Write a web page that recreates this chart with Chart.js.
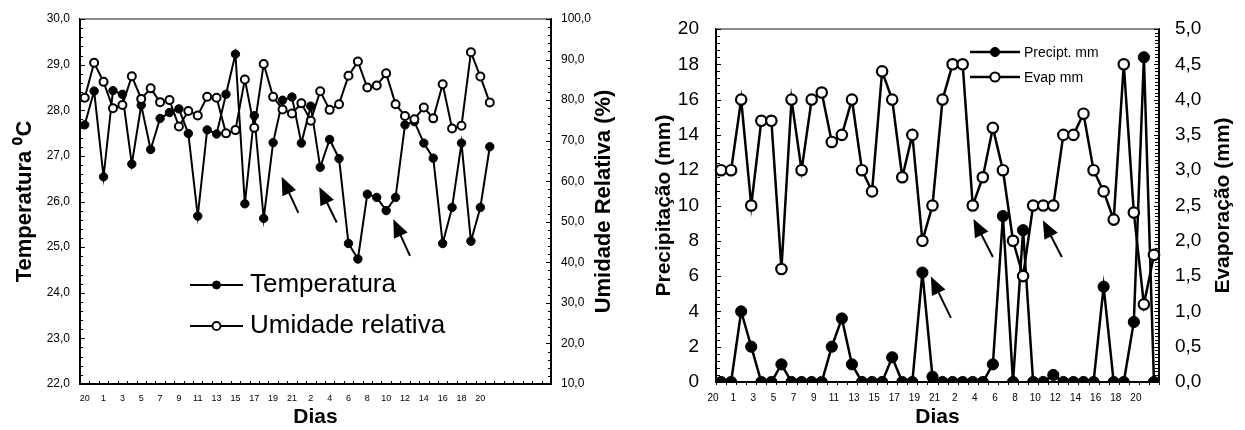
<!DOCTYPE html>
<html>
<head>
<meta charset="utf-8">
<script src="https://cdn.jsdelivr.net/npm/chart.js@4.4.7/dist/chart.umd.min.js"></script>
<style>
  html, body { margin: 0; padding: 0; background: #fff; }
  #wrap { position: relative; width: 1245px; height: 430px; }
  .box { position: absolute; top: 0; height: 430px; }
  #left { left: 0; width: 635px; }
  #right { left: 635px; width: 610px; }
</style>
</head>
<body>
<div id="wrap">
  <div class="box" id="left"><canvas id="c1"></canvas></div>
  <div class="box" id="right"><canvas id="c2"></canvas></div>
</div>
<script>
// dias (categorias)
const dias = ['20', '21', '1', '2', '3', '4', '5', '6', '7', '8', '9', '10', '11', '12', '13', '14', '15', '16', '17', '18', '19', '20', '21',
  '1', '2', '3', '4', '5', '6', '7', '8', '9', '10', '11', '12', '13', '14', '15', '16', '17', '18', '19', '20', '21'];
// o eixo do primeiro gráfico continua alguns dias sem dados
const vazios = ['', '', '', '', '', ''];

const temperatura = [27.68, 28.42, 26.54, 28.43, 28.35, 26.82, 28.11, 27.14, 27.82, 27.95, 28.03, 27.49, 25.68, 27.57, 27.48,
  28.35, 29.23, 25.95, 27.88, 25.63, 27.29, 28.22, 28.29, 27.28, 28.09, 26.75, 27.36, 26.94, 25.08, 24.74, 26.16, 26.09,
  25.80, 26.09, 27.68, 27.75, 27.28, 26.95, 25.08, 25.87, 27.28, 25.13, 25.87, 27.20];
const umidade = [80.6, 89.2, 84.5, 78.0, 78.8, 85.9, 80.3, 82.9, 79.5, 80.0, 73.5, 77.3, 76.2, 80.8, 80.6, 71.8, 72.6, 85.1,
  73.2, 88.9, 80.8, 77.7, 76.7, 79.2, 74.9, 82.2, 77.6, 79.0, 86.0, 89.5, 83.1, 83.6, 86.6, 79.0, 76.1, 75.3, 78.2, 75.5,
  83.9, 73.0, 73.7, 91.8, 85.8, 79.4];

const precipitacao = [0, 0, 4.0, 2.0, 0, 0, 1.0, 0, 0, 0, 0, 2.0, 3.6, 1.0, 0, 0, 0, 1.4, 0, 0, 6.2, 0.3, 0, 0, 0, 0, 0, 1.0,
  9.4, 0, 8.6, 0, 0, 0.4, 0, 0, 0, 0, 5.4, 0, 0, 3.4, 18.4, 0];
const evaporacao = [3.0, 3.0, 4.0, 2.5, 3.7, 3.7, 1.6, 4.0, 3.0, 4.0, 4.1, 3.4, 3.5, 4.0, 3.0, 2.7, 4.4, 4.0, 2.9, 3.5, 2.0,
  2.5, 4.0, 4.5, 4.5, 2.5, 2.9, 3.6, 3.0, 2.0, 1.5, 2.5, 2.5, 2.5, 3.5, 3.5, 3.8, 3.0, 2.7, 2.3, 4.5, 2.4, 1.1, 1.8];

Chart.defaults.font.family = '"Liberation Sans", Arial, sans-serif';
Chart.defaults.color = '#000';

const virgula = v => v.toFixed(1).replace('.', ',');

// moldura cinza no topo e marcas de escala para dentro
const moldura = {
  id: 'moldura',
  beforeDatasetsDraw(chart, args, o) {
    const { ctx, chartArea: a, scales } = chart;
    ctx.save();
    ctx.strokeStyle = '#8a8a8a';
    ctx.lineWidth = 2;
    ctx.beginPath(); ctx.moveTo(a.left, a.top); ctx.lineTo(a.right, a.top); ctx.stroke();
    ctx.strokeStyle = '#000';
    ctx.lineWidth = 1;
    for (const id of ['y', 'y1']) {
      const s = scales[id], t = o[id];
      const n = Math.round((s.max - s.min) / t.minor);
      const x0 = s.position === 'left' ? a.left : a.right;
      const dir = s.position === 'left' ? 1 : -1;
      for (let i = 0; i <= n; i++) {
        const y = Math.round(s.getPixelForValue(s.min + i * t.minor)) + 0.5;
        const len = i % t.every === 0 ? t.major : t.len;
        ctx.beginPath(); ctx.moveTo(x0, y); ctx.lineTo(x0 + dir * len, y); ctx.stroke();
      }
    }
    const sx = scales.x, n = sx.getLabels().length;
    for (let i = 0; i <= n; i++) {
      const x = Math.round(sx.getPixelForValue(i - 0.5)) + 0.5;
      ctx.beginPath(); ctx.moveTo(x, a.bottom); ctx.lineTo(x, a.bottom + o.x.dir * o.x.len); ctx.stroke();
    }
    ctx.restore();
  }
};

const setas = {
  id: 'setas',
  afterDatasetsDraw(chart, args, o) {
    const { ctx, scales } = chart;
    ctx.save();
    ctx.fillStyle = '#000';
    ctx.strokeStyle = '#000';
    ctx.lineWidth = 2;
    o.lista.forEach(s => {
      const x1 = scales.x.getPixelForValue(s.de[0]), y1 = scales.y.getPixelForValue(s.de[1]);
      const x2 = scales.x.getPixelForValue(s.para[0]), y2 = scales.y.getPixelForValue(s.para[1]);
      const ang = Math.atan2(y2 - y1, x2 - x1);
      const c = Math.cos(ang), sn = Math.sin(ang);
      const bx = x2 - o.head * c, by = y2 - o.head * sn;
      ctx.beginPath(); ctx.moveTo(x1, y1); ctx.lineTo(bx + 2 * c, by + 2 * sn); ctx.stroke();
      ctx.beginPath();
      ctx.moveTo(x2, y2);
      ctx.lineTo(bx - o.width / 2 * sn, by + o.width / 2 * c);
      ctx.lineTo(bx + o.width / 2 * sn, by - o.width / 2 * c);
      ctx.closePath();
      ctx.fill();
    });
    ctx.restore();
  }
};

const legendaInterna = {
  id: 'legendaInterna',
  afterDraw(chart, args, o) {
    const { ctx, chartArea: a } = chart;
    ctx.save();
    chart.data.datasets.forEach((ds, i) => {
      const x = a.left + o.dx, y = a.top + o.dy + i * o.gap;
      ctx.strokeStyle = '#000';
      ctx.lineWidth = o.lineWidth;
      ctx.beginPath(); ctx.moveTo(x, y); ctx.lineTo(x + o.len, y); ctx.stroke();
      ctx.beginPath();
      ctx.arc(x + o.len / 2, y, o.r, 0, Math.PI * 2);
      ctx.fillStyle = ds.pointBackgroundColor;
      ctx.fill();
      ctx.lineWidth = ds.pointBackgroundColor === '#fff' ? o.bw : 1;
      ctx.stroke();
      ctx.fillStyle = '#000';
      ctx.font = o.font;
      ctx.textBaseline = 'alphabetic';
      ctx.fillText(ds.label, x + o.len + o.textGap, y + o.base);
    });
    ctx.restore();
  }
};

// título do eixo secundário, lido de baixo para cima como no original
const tituloDireito = {
  id: 'tituloDireito',
  afterDraw(chart, args, o) {
    const { ctx, chartArea: a } = chart;
    ctx.save();
    ctx.translate(a.right + o.dx, (a.top + a.bottom) / 2);
    ctx.rotate(-Math.PI / 2);
    ctx.font = o.font;
    ctx.fillStyle = '#000';
    ctx.textAlign = 'center';
    ctx.textBaseline = 'middle';
    ctx.fillText(o.text, 0, 0);
    ctx.restore();
  }
};

const semGrade = { display: false, drawTicks: false };
const borda = { color: '#000', width: 2 };

new Chart(document.getElementById('c1'), {
  type: 'line',
  data: {
    labels: dias.concat(vazios),
    datasets: [
      { label: 'Temperatura', data: temperatura, yAxisID: 'y', order: 1, borderColor: '#000', borderWidth: 2,
        pointRadius: 4.2, pointBackgroundColor: '#000', pointBorderColor: '#000', pointBorderWidth: 1 },
      { label: 'Umidade relativa', data: umidade, yAxisID: 'y1', order: 0, borderColor: '#000', borderWidth: 2,
        pointRadius: 4, pointBackgroundColor: '#fff', pointBorderColor: '#000', pointBorderWidth: 2 }
    ]
  },
  options: {
    responsive: true,
    maintainAspectRatio: false,
    animation: false,
    layout: { padding: { top: 19, left: 0, right: 0, bottom: 0 } },
    plugins: {
      legend: { display: false },
      tooltip: { enabled: false },
      moldura: { y: { minor: 0.2, every: 5, major: 5, len: 3 }, y1: { minor: 2, every: 5, major: 5, len: 3 }, x: { dir: -1, len: 3 } },
      setas: { head: 18, width: 15, lista: [
        { de: [22.68, 25.75], para: [20.91, 26.54] },
        { de: [26.75, 25.54], para: [24.9, 26.32] },
        { de: [34.53, 24.81], para: [32.76, 25.61] }
      ] },
      legendaInterna: { dx: 110, dy: 266, gap: 41, len: 53, r: 4, bw: 1.8, lineWidth: 2, textGap: 7, base: 7, font: '26px "Liberation Sans", Arial, sans-serif' },
      tituloDireito: { dx: 53, text: 'Umidade Relativa (%)', font: 'bold 22px "Liberation Sans", Arial, sans-serif' }
    },
    scales: {
      x: {
        offset: true,
        grid: semGrade,
        border: borda,
        ticks: { autoSkip: false, maxRotation: 0, padding: 9, font: { size: 9 },
          callback(v, i) { return i % 2 === 0 ? this.getLabelForValue(v) : ''; } },
        title: { display: true, text: 'Dias', font: { size: 21, weight: 'bold' }, padding: { top: 0, bottom: 0 } },
        afterFit(s) { s.height = 46; }
      },
      y: {
        position: 'left', min: 22, max: 30,
        grid: semGrade,
        border: borda,
        ticks: { stepSize: 1, padding: 10, font: { size: 12 }, callback: virgula },
        title: { display: true, text: 'Temperatura ⁰C', font: { size: 22, weight: 'bold' }, padding: { top: 12, bottom: 0 } },
        afterFit(s) { s.width = 80; }
      },
      y1: {
        position: 'right', min: 10, max: 100,
        grid: semGrade,
        border: borda,
        ticks: { stepSize: 10, padding: 10, font: { size: 12 }, callback: virgula },
        afterFit(s) { s.width = 84; }
      }
    }
  },
  plugins: [moldura, setas, legendaInterna, tituloDireito]
});

new Chart(document.getElementById('c2'), {
  type: 'line',
  data: {
    labels: dias,
    datasets: [
      { label: 'Precipt. mm', data: precipitacao, yAxisID: 'y', order: 1, borderColor: '#000', borderWidth: 2.5,
        pointRadius: 5.6, pointBackgroundColor: '#000', pointBorderColor: '#000', pointBorderWidth: 1 },
      { label: 'Evap mm', data: evaporacao, yAxisID: 'y1', order: 0, borderColor: '#000', borderWidth: 2.5,
        pointRadius: 5.2, pointBackgroundColor: '#fff', pointBorderColor: '#000', pointBorderWidth: 2.2 }
    ]
  },
  options: {
    responsive: true,
    maintainAspectRatio: false,
    animation: false,
    layout: { padding: { top: 29, left: 0, right: 0, bottom: 0 } },
    plugins: {
      legend: { display: false },
      tooltip: { enabled: false },
      moldura: { y: { minor: 0.4, every: 5, major: 5, len: 4 }, y1: { minor: 0.05, every: 10, major: 5, len: 4 }, x: { dir: 1, len: 3 } },
      setas: { head: 18, width: 15, lista: [
        { de: [22.83, 3.63], para: [20.84, 5.98] },
        { de: [27.0, 7.08], para: [25.07, 9.24] },
        { de: [33.85, 7.08], para: [31.96, 9.16] }
      ] },
      legendaInterna: { dx: 254, dy: 23, gap: 25, len: 50, r: 4.6, bw: 2, lineWidth: 2.5, textGap: 4, base: 5, font: '14px "Liberation Sans", Arial, sans-serif' },
      tituloDireito: { dx: 64, text: 'Evaporação (mm)', font: 'bold 21px "Liberation Sans", Arial, sans-serif' }
    },
    scales: {
      x: {
        offset: true,
        grid: semGrade,
        border: borda,
        ticks: { autoSkip: false, maxRotation: 0, padding: 10, labelOffset: -8, font: { size: 10 },
          callback(v, i) { return i % 2 === 0 ? this.getLabelForValue(v) : ''; } },
        title: { display: true, text: 'Dias', font: { size: 21, weight: 'bold' }, padding: { top: 0, bottom: 0 } },
        afterFit(s) { s.height = 48; }
      },
      y: {
        position: 'left', min: 0, max: 20,
        grid: semGrade,
        border: borda,
        ticks: { stepSize: 2, padding: 17, font: { size: 19 } },
        title: { display: true, text: 'Precipitação (mm)', font: { size: 21, weight: 'bold' }, padding: { top: 17, bottom: 0 } },
        afterFit(s) { s.width = 81; }
      },
      y1: {
        position: 'right', min: 0, max: 5,
        grid: semGrade,
        border: borda,
        ticks: { stepSize: 0.5, padding: 16, font: { size: 19 }, callback: virgula },
        afterFit(s) { s.width = 86; }
      }
    }
  },
  plugins: [moldura, setas, legendaInterna, tituloDireito]
});
</script>
</body>
</html>
